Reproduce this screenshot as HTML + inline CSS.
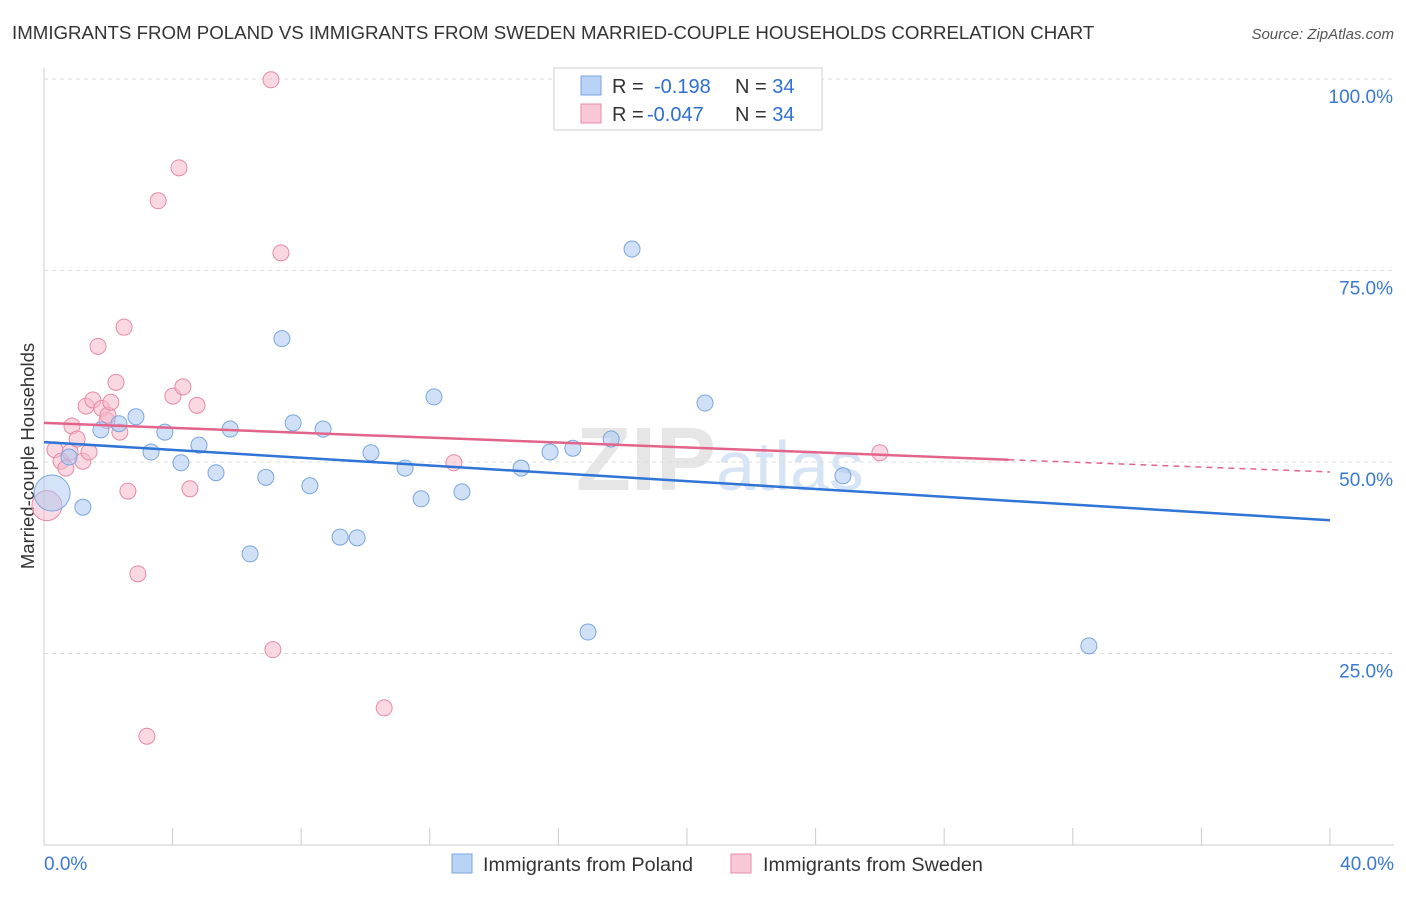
<!DOCTYPE html>
<html><head><meta charset="utf-8"><style>
body{margin:0;background:#fff;font-family:"Liberation Sans",sans-serif}
svg text{font-family:"Liberation Sans",sans-serif}
</style></head><body>
<svg id="c" width="1406" height="892">
<text x="12" y="39" font-size="18.7" fill="#333">IMMIGRANTS FROM POLAND VS IMMIGRANTS FROM SWEDEN MARRIED-COUPLE HOUSEHOLDS CORRELATION CHART</text>
<text x="1394" y="39" font-size="15" fill="#555" font-style="italic" text-anchor="end">Source: ZipAtlas.com</text>
<text x="720" y="490" font-size="90" fill="#e6e6e6" text-anchor="middle" font-family="Liberation Serif" font-weight="bold">ZIP<tspan fill="#d6e4f5" font-family="Liberation Sans" font-weight="normal" font-size="70">atlas</tspan></text>
<text transform="translate(34,456) rotate(-90)" font-size="18.5" fill="#333" text-anchor="middle">Married-couple Households</text>
<g id="grid"></g><g id="pts"></g><g id="lines"></g>
<g>
<rect x="554" y="68" width="268" height="62" fill="#fff" stroke="#ccc"/>
<rect x="581" y="76" width="20" height="19" fill="#b8d3f5" stroke="#7aa6e0"/>
<rect x="581" y="104" width="20" height="19" fill="#f9c8d7" stroke="#e88aa8"/>
<text x="612" y="93" font-size="20" fill="#333">R =  <tspan fill="#2f6fd1" x="654">-0.198</tspan><tspan x="735" fill="#333">N = </tspan><tspan fill="#2f6fd1">34</tspan></text>
<text x="612" y="121" font-size="20" fill="#333">R = <tspan fill="#2f6fd1" x="647">-0.047</tspan><tspan x="735" fill="#333">N = </tspan><tspan fill="#2f6fd1">34</tspan></text>
</g>
<g>
<rect x="452" y="854" width="20" height="19" fill="#b8d3f5" stroke="#7aa6e0"/>
<text x="483" y="871" font-size="19.8" fill="#333">Immigrants from Poland</text>
<rect x="731" y="854" width="20" height="19" fill="#f9c8d7" stroke="#e88aa8"/>
<text x="763" y="871" font-size="19.8" fill="#333">Immigrants from Sweden</text>
</g>
</svg>
<script>
const yTicks=[25,50,75,100];
const xTickLabels=["0.0%","40.0%"];
const polandX=[0.25,0.78,1.21,1.77,2.33,2.86,3.33,3.76,4.26,4.82,5.35,5.79,6.41,6.90,7.40,7.75,8.27,8.68,9.21,9.74,10.17,11.23,11.73,12.13,13.00,14.84,15.74,16.45,16.92,17.64,18.29,20.56,24.85,32.50];
const polandY=[45.95,50.65,44.1,54.2,55.0,55.9,51.3,53.9,49.9,52.2,48.6,54.3,38.0,48.0,66.1,55.1,46.9,54.3,40.2,40.1,51.2,49.2,45.2,58.5,46.1,49.2,51.3,51.8,27.8,53.0,77.8,57.7,48.2,26.0];
const swedenX=[0.09,0.34,0.53,0.68,0.81,0.87,1.03,1.21,1.31,1.40,1.52,1.68,1.80,1.96,1.99,2.08,2.24,2.36,2.49,2.61,2.92,3.20,3.55,4.01,4.20,4.32,4.54,4.76,7.06,7.12,7.37,10.58,12.75,26.0];
const swedenY=[44.3,51.6,50.1,49.2,51.3,54.7,53.0,50.1,57.3,51.3,58.1,65.1,57.0,55.4,56.1,57.8,60.4,53.9,67.6,46.2,35.4,14.2,84.1,58.6,88.4,59.8,46.5,57.4,99.9,25.5,77.3,17.9,49.9,51.2];
const polandTrend=[52.6,42.4];
const swedenTrend=[55.1,48.7];
const swedenSolidEnd=30;
const X=v=>44+v/40*1286, Y=v=>845-v/100*766;
const NS="http://www.w3.org/2000/svg";
function mk(p,t,a){const e=document.createElementNS(NS,t);for(const k in a)e.setAttribute(k,a[k]);p.appendChild(e);return e;}
const g=document.getElementById('grid');
mk(g,'line',{x1:44,y1:68,x2:44,y2:845,stroke:'#ccc'});
mk(g,'line',{x1:44,y1:845,x2:1394,y2:845,stroke:'#ccc'});
yTicks.forEach(t=>{
 const l=mk(g,'line',{x1:44,y1:Y(t),x2:1394,y2:Y(t),stroke:'#ddd','stroke-dasharray':'4,4'});
 
 
 const tx=mk(g,'text',{x:1393,y:Y(t)+24,'font-size':19,fill:'#3a78d6','text-anchor':'end'});
 tx.textContent=t.toFixed(1)+'%';
 
 
});
for(let i=0;i<=40;i+=4){mk(g,'line',{x1:X(i),y1:828,x2:X(i),y2:845,stroke:'#ccc'});}
const a=mk(g,'text',{x:44,y:870,'font-size':19,fill:'#3a78d6'});a.textContent=xTickLabels[0];


const b=mk(g,'text',{x:1394,y:870,'font-size':19,fill:'#3a78d6','text-anchor':'end'});b.textContent=xTickLabels[1];


const P=document.getElementById('pts');
function dots(xs,ys,fill,stroke,name,big){xs.forEach((x,i)=>{
 const c=mk(P,'circle',{cx:X(x),cy:Y(ys[i]),r:i==0?big:8,fill:fill,'fill-opacity':i==0?0.5:0.55,stroke:stroke,'stroke-width':1});
 
 
});}
dots(swedenX,swedenY,'#f6b8cb','#e88aa8','sweden-point',15);
dots(polandX,polandY,'#a9c8f0','#7aa6e0','poland-point',18);
const L=document.getElementById('lines');
const l1=mk(L,'line',{x1:X(0),y1:Y(polandTrend[0]),x2:X(40),y2:Y(polandTrend[1]),stroke:'#2f74d6','stroke-width':2.5});


const sy=swedenTrend[0]+(swedenTrend[1]-swedenTrend[0])*swedenSolidEnd/40;
const l2=mk(L,'line',{x1:X(0),y1:Y(swedenTrend[0]),x2:X(swedenSolidEnd),y2:Y(sy),stroke:'#e2648a','stroke-width':2.5});


const l3=mk(L,'line',{x1:X(swedenSolidEnd),y1:Y(sy),x2:X(40),y2:Y(swedenTrend[1]),stroke:'#e2648a','stroke-width':1.5,'stroke-dasharray':'6,5'});


</script>
</body></html>
